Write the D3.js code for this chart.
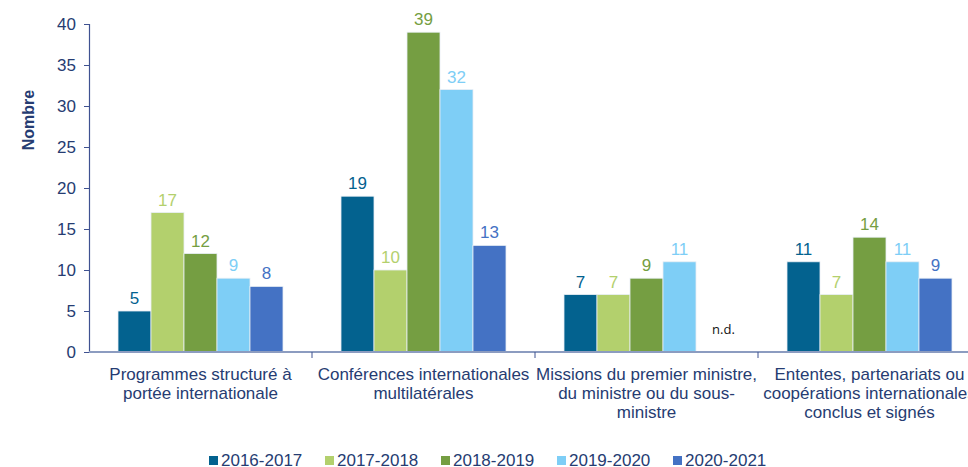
<!DOCTYPE html>
<html lang="fr">
<head>
<meta charset="utf-8">
<script src="https://d3js.org/d3.v7.min.js"></script>
<style type="text/css">
  body { margin: 0; background: #fff; }
  svg text { font-family: "Liberation Sans", Arial, sans-serif; }
</style>
</head>
<body>
<script type="text/javascript">

  // Data
  var categories = [
    "Programmes structuré à|portée internationale",
    "Conférences internationales|multilatérales",
    "Missions du premier ministre,|du ministre ou du sous-|ministre",
    "Ententes, partenariats ou|coopérations internationales|conclus et signés"
  ];
  var seriesNames = ["2016-2017", "2017-2018", "2018-2019", "2019-2020", "2020-2021"];
  var values2016 = [5, 19, 7, 11];
  var values2017 = [17, 10, 7, 7];
  var values2018 = [12, 39, 9, 14];
  var values2019 = [9, 32, 11, 11];
  var values2020 = [8, 13, null, 9];   // null = n.d.
  var yTicks = [0, 5, 10, 15, 20, 25, 30, 35, 40];
  var colors = ["#03628f", "#b3d06d", "#759e42", "#7ecef6", "#4472c4"];

  var allValues = [values2016, values2017, values2018, values2019, values2020];

  var width = 968, height = 467;
  var navy = "#263c72";

  var svg = d3.select("body").append("svg")
    .attr("width", width)
    .attr("height", height);

  // scales
  var y = d3.scaleLinear().domain([0, 40]).range([352, 24]);
  var x0 = d3.scaleBand().domain(d3.range(categories.length)).range([89, 981]).padding(0);
  var x1 = d3.scaleBand().domain(d3.range(seriesNames.length))
    .range([29, x0.bandwidth() - 29]).padding(0);

  // y axis
  var yAxis = svg.append("g")
    .attr("transform", "translate(89,0)")
    .call(d3.axisLeft(y).tickValues(yTicks).tickSize(5).tickPadding(8));
  yAxis.select(".domain").attr("stroke", "#3f5291").attr("stroke-width", 1.2);
  yAxis.selectAll(".tick line").attr("stroke", "#3f5291");
  yAxis.selectAll("text").attr("fill", navy).style("font-size", "17px");

  svg.append("text")
    .attr("transform", "translate(34,120) rotate(-90)")
    .attr("text-anchor", "middle")
    .attr("fill", navy)
    .style("font-size", "16px")
    .style("font-weight", "bold")
    .text("Nombre");

  // bars
  var groups = svg.selectAll("g.cat")
    .data(categories)
    .enter().append("g")
    .attr("class", "cat")
    .attr("transform", function(d, i) { return "translate(" + x0(i) + ",0)"; });

  groups.each(function(c, ci) {
    var g = d3.select(this);
    var rows = allValues.map(function(vals, si) { return { s: si, v: vals[ci] }; });

    g.selectAll("rect")
      .data(rows.filter(function(r) { return r.v !== null; }))
      .enter().append("rect")
      .attr("x", function(r) { return x1(r.s); })
      .attr("y", function(r) { return y(r.v); })
      .attr("width", x1.bandwidth())
      .attr("height", function(r) { return y(0) - y(r.v); })
      .attr("fill", function(r) { return colors[r.s]; })
      .attr("stroke", "#e8eef4")
      .attr("stroke-width", 0.8);

    g.selectAll("text.val")
      .data(rows)
      .enter().append("text")
      .attr("class", "val")
      .attr("x", function(r) { return x1(r.s) + x1.bandwidth() / 2 + (r.v === null ? 11 : 0); })
      .attr("y", function(r) { return r.v === null ? 334 : y(r.v) - 7; })
      .attr("text-anchor", "middle")
      .attr("fill", function(r) { return r.v === null ? "#111" : colors[r.s]; })
      .style("font-size", function(r) { return r.v === null ? "13px" : "17px"; })
      .style("font-family", function(r) { return r.v === null ? "'Open Sans', sans-serif" : null; })
      .text(function(r) { return r.v === null ? "n.d." : r.v; });
  });

  // x axis
  var xAxis = svg.append("g").attr("transform", "translate(0," + y(0) + ")");
  xAxis.append("line")
    .attr("x1", 89).attr("x2", width)
    .attr("stroke", "#8c9cc0").attr("stroke-width", 2);
  xAxis.selectAll("line.tick")
    .data(d3.range(1, categories.length))
    .enter().append("line")
    .attr("class", "tick")
    .attr("x1", function(i) { return x0(i); })
    .attr("x2", function(i) { return x0(i); })
    .attr("y1", 0).attr("y2", 6)
    .attr("stroke", "#3f5291");

  var labels = xAxis.selectAll("text.cat")
    .data(categories)
    .enter().append("text")
    .attr("class", "cat")
    .attr("text-anchor", "middle")
    .attr("fill", navy)
    .style("font-size", "17px")
    .attr("transform", function(d, i) { return "translate(" + (x0(i) + x0.bandwidth() / 2) + ",28)"; });
  labels.selectAll("tspan")
    .data(function(d) { return d.split("|"); })
    .enter().append("tspan")
    .attr("x", 0)
    .attr("y", function(d, i) { return i * 19; })
    .text(function(d) { return d; });

  // legend
  var legend = svg.selectAll("g.legend")
    .data(seriesNames)
    .enter().append("g")
    .attr("class", "legend")
    .attr("transform", function(d, i) { return "translate(" + (209 + i * 116) + ",456)"; });
  legend.append("rect")
    .attr("width", 9).attr("height", 9)
    .attr("fill", function(d, i) { return colors[i]; });
  legend.append("text")
    .attr("x", 12).attr("y", 10)
    .attr("fill", navy)
    .style("font-size", "17px")
    .text(function(d) { return d; });
</script>
</body>
</html>
